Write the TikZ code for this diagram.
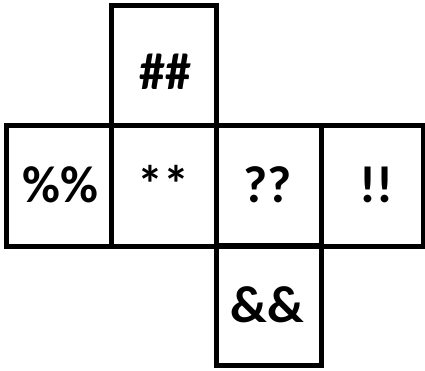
\documentclass[tikz,border=0pt]{standalone}
\usepackage{fontspec}
\setmainfont{Carlito}
\begin{document}
\begin{tikzpicture}[x=1pt,y=-1pt,
  cell/.style={draw=black,line width=5pt,minimum width=105pt,minimum height=120pt,inner sep=0pt,outer sep=0pt},
  lbl/.style={anchor=base,inner sep=0pt,font=\fontsize{52}{60}\selectfont\bfseries}]
\useasboundingbox[fill=white] (0,0) rectangle (425,371);
\node[cell] (top) at (163.75,65.75) {};
\node[cell] (c1) at (58.75,186) {};
\node[cell] (c2) at (163.75,186) {};
\node[cell] (c3) at (268.75,186) {};
\node[cell,minimum width=102pt] (c4) at (372,186) {};
\node[cell] (bot) at (268.75,305.75) {};
\node[lbl] (t0) at (165,90) {\#\#};
\node[lbl] (t1) at (60,203) {\%\%};
\node[lbl] (t2) at (163,203) {**};
\node[lbl] (t3) at (267.5,203) {??};
\node[lbl] (t4) at (376.7,203) {!!};
\node[lbl] (t5) at (267.5,322) {\&\&};
\end{tikzpicture}
\end{document}
